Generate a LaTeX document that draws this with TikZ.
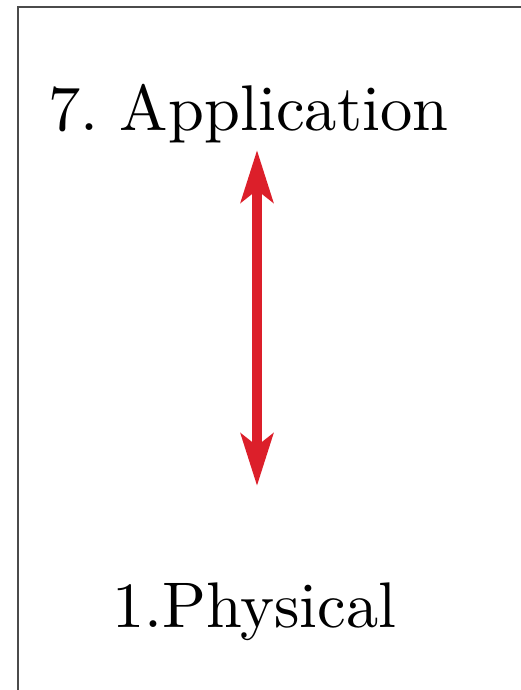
\documentclass[tikz,border=0pt]{standalone}
\usetikzlibrary{arrows.meta}
\definecolor{arrowred}{RGB}{220,31,42}
\definecolor{framegray}{RGB}{75,75,75}
\begin{document}
\frenchspacing
\begin{tikzpicture}[x=1pt,y=-1pt,
  layer/.style={inner sep=0pt, anchor=base west},
  link/.style={arrowred, line width=10pt, {Stealth[length=52pt,width=32pt,inset=12pt]}-{Stealth[length=52pt,width=32pt,inset=12pt]}}]
\useasboundingbox (0,0) rectangle (521,690);
\draw[framegray, line width=2.6pt] (18,700) -- (18,7) -- (530,7);
\node[layer] (app) at (48,131) {\resizebox{400pt}{!}{7. Application}};
\node[layer] (phy) at (112,627) {\resizebox{284pt}{!}{1.Physical}};
\coordinate (top) at (257,150);
\coordinate (bot) at (257,486);
\draw[link] (top) -- (bot);
\end{tikzpicture}
\end{document}
